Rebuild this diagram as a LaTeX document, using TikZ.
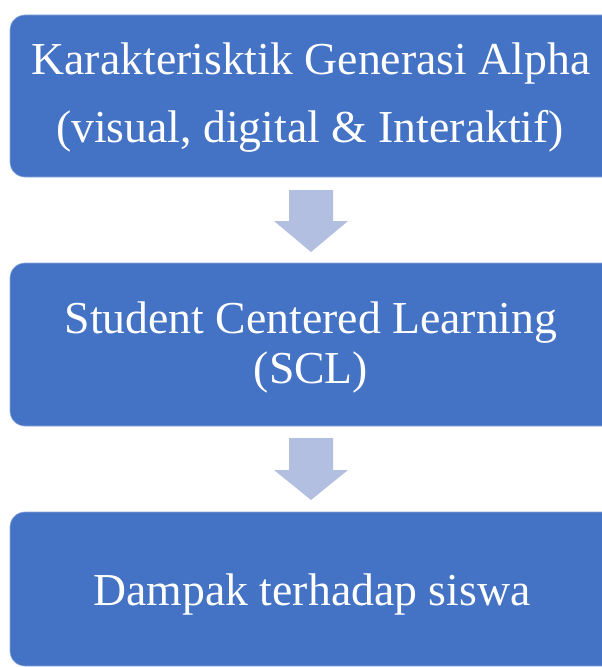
\documentclass[tikz,border=0pt]{standalone}
\usepackage{fontspec}
\setmainfont{Liberation Serif}
\definecolor{boxblue}{HTML}{4472C4}
\definecolor{boxedge}{HTML}{8FA9DC}
\definecolor{arrowblue}{HTML}{B2BFE0}
\begin{document}
\begin{tikzpicture}[x=1bp,y=-1bp,
  flowbox/.style={fill=boxblue,draw=boxedge,line width=0.6bp,rounded corners=15bp,
    anchor=north west,inner sep=0pt,outer sep=0pt,minimum width=640bp},
  flowtext/.style={text=white,inner sep=0pt,anchor=base,font=\fontsize{45.9}{50}\selectfont},
  downarrow/.style={fill=arrowblue}]
\useasboundingbox (0,0) rectangle (602,667);
\clip (0,0) rectangle (602,667);
\fill[white] (0,0) rectangle (602,667);
% boxes
\node[flowbox,minimum height=162bp] (b1) at (10,15) {};
\node[flowbox,minimum height=163bp] (b2) at (10,263) {};
\node[flowbox,minimum height=154bp] (b3) at (10,512) {};
% texts
\node[flowtext] (t1a) at (311,75) {Karakterisktik Generasi Alpha};
\node[flowtext] (t1b) at (310,142) {(visual, digital \& Interaktif)};
\node[flowtext] (t2a) at (311,333) {Student Centered Learning};
\node[flowtext] (t2b) at (311,383) {(SCL)};
\node[flowtext] (t3) at (312,605) {Dampak terhadap siswa};
% arrows
\fill[downarrow] (289,190) -- (333,190) -- (333,221) -- (348,221) -- (311,252) -- (274,221) -- (289,221) -- cycle;
\fill[downarrow] (289,438) -- (333,438) -- (333,470) -- (348,470) -- (311,500) -- (274,470) -- (289,470) -- cycle;
\end{tikzpicture}
\end{document}
